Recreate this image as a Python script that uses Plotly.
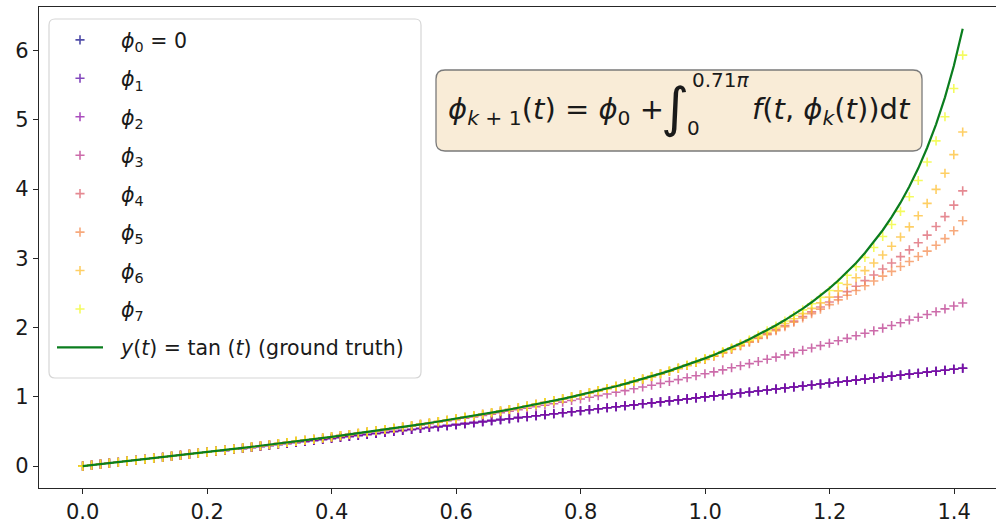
import plotly.graph_objects as go

# ---------------- data ----------------
T = [0.0000, 0.0143, 0.0286, 0.0428, 0.0571, 0.0714, 0.0857, 0.1000, 0.1142, 0.1285,
     0.1428, 0.1571, 0.1714, 0.1856, 0.1999, 0.2142, 0.2285, 0.2428, 0.2570, 0.2713,
     0.2856, 0.2999, 0.3142, 0.3284, 0.3427, 0.3570, 0.3713, 0.3856, 0.3998, 0.4141,
     0.4284, 0.4427, 0.4570, 0.4712, 0.4855, 0.4998, 0.5141, 0.5284, 0.5426, 0.5569,
     0.5712, 0.5855, 0.5998, 0.6140, 0.6283, 0.6426, 0.6569, 0.6712, 0.6854, 0.6997,
     0.7140, 0.7283, 0.7426, 0.7568, 0.7711, 0.7854, 0.7997, 0.8140, 0.8282, 0.8425,
     0.8568, 0.8711, 0.8854, 0.8996, 0.9139, 0.9282, 0.9425, 0.9568, 0.9710, 0.9853,
     0.9996, 1.0139, 1.0282, 1.0424, 1.0567, 1.0710, 1.0853, 1.0996, 1.1138, 1.1281,
     1.1424, 1.1567, 1.1710, 1.1852, 1.1995, 1.2138, 1.2281, 1.2424, 1.2566, 1.2709,
     1.2852, 1.2995, 1.3138, 1.3280, 1.3423, 1.3566, 1.3709, 1.3852, 1.3994, 1.4137]

PHI_LOW = [0.000, 0.014, 0.029, 0.043, 0.057, 0.071, 0.086, 0.100, 0.114, 0.129,
           0.143, 0.157, 0.171, 0.186, 0.200, 0.214, 0.228, 0.243, 0.257, 0.271,
           0.286, 0.300, 0.314, 0.328, 0.343, 0.357, 0.371, 0.386, 0.400, 0.414,
           0.428, 0.443, 0.457, 0.471, 0.486, 0.500, 0.514, 0.528, 0.543, 0.557,
           0.571, 0.585, 0.600, 0.614, 0.628, 0.643, 0.657, 0.671, 0.685, 0.700,
           0.714, 0.728, 0.743, 0.757, 0.771, 0.785, 0.800, 0.814, 0.828, 0.843,
           0.857, 0.871, 0.885, 0.900, 0.914, 0.928, 0.942, 0.957, 0.971, 0.985,
           1.000, 1.014, 1.028, 1.042, 1.057, 1.071, 1.085, 1.100, 1.114, 1.128,
           1.142, 1.157, 1.171, 1.185, 1.200, 1.214, 1.228, 1.242, 1.257, 1.271,
           1.285, 1.299, 1.314, 1.328, 1.342, 1.357, 1.371, 1.385, 1.399, 1.414]

PHI3 = [0.000, 0.014, 0.029, 0.043, 0.057, 0.072, 0.086, 0.100, 0.115, 0.129,
        0.144, 0.158, 0.173, 0.188, 0.203, 0.217, 0.232, 0.248, 0.263, 0.278,
        0.293, 0.309, 0.324, 0.340, 0.356, 0.372, 0.388, 0.405, 0.421, 0.438,
        0.455, 0.472, 0.489, 0.506, 0.524, 0.541, 0.559, 0.578, 0.596, 0.614,
        0.633, 0.652, 0.672, 0.691, 0.711, 0.731, 0.751, 0.772, 0.793, 0.814,
        0.835, 0.857, 0.879, 0.901, 0.924, 0.947, 0.970, 0.994, 1.018, 1.042,
        1.066, 1.091, 1.117, 1.142, 1.168, 1.195, 1.222, 1.249, 1.276, 1.304,
        1.333, 1.361, 1.390, 1.420, 1.450, 1.480, 1.511, 1.543, 1.574, 1.607,
        1.639, 1.673, 1.706, 1.740, 1.775, 1.810, 1.845, 1.882, 1.918, 1.955,
        1.993, 2.031, 2.070, 2.109, 2.149, 2.189, 2.230, 2.271, 2.313, 2.356]

PHI4 = [0.000, 0.014, 0.029, 0.043, 0.057, 0.072, 0.086, 0.100, 0.115, 0.129,
        0.144, 0.158, 0.173, 0.188, 0.203, 0.218, 0.233, 0.248, 0.263, 0.278,
        0.294, 0.309, 0.325, 0.341, 0.357, 0.373, 0.389, 0.406, 0.423, 0.440,
        0.457, 0.474, 0.492, 0.510, 0.528, 0.546, 0.565, 0.584, 0.603, 0.623,
        0.643, 0.663, 0.684, 0.705, 0.727, 0.749, 0.771, 0.794, 0.818, 0.842,
        0.867, 0.892, 0.918, 0.944, 0.972, 1.000, 1.029, 1.059, 1.090, 1.121,
        1.153, 1.186, 1.221, 1.256, 1.294, 1.332, 1.371, 1.412, 1.454, 1.498,
        1.543, 1.590, 1.638, 1.689, 1.741, 1.795, 1.851, 1.909, 1.969, 2.030,
        2.094, 2.160, 2.227, 2.298, 2.369, 2.443, 2.520, 2.597, 2.678, 2.760,
        2.846, 2.934, 3.025, 3.122, 3.225, 3.336, 3.460, 3.602, 3.768, 3.974]

PHI5 = [0.000, 0.014, 0.029, 0.043, 0.057, 0.072, 0.086, 0.100, 0.115, 0.129,
        0.144, 0.158, 0.173, 0.188, 0.203, 0.218, 0.233, 0.248, 0.263, 0.278,
        0.294, 0.309, 0.325, 0.341, 0.357, 0.373, 0.389, 0.406, 0.423, 0.440,
        0.457, 0.474, 0.492, 0.510, 0.528, 0.546, 0.565, 0.584, 0.603, 0.623,
        0.643, 0.663, 0.684, 0.705, 0.727, 0.749, 0.771, 0.794, 0.818, 0.842,
        0.867, 0.892, 0.918, 0.944, 0.972, 1.000, 1.029, 1.059, 1.090, 1.121,
        1.152, 1.186, 1.221, 1.256, 1.293, 1.331, 1.370, 1.411, 1.452, 1.496,
        1.541, 1.587, 1.635, 1.684, 1.736, 1.788, 1.842, 1.899, 1.956, 2.015,
        2.077, 2.138, 2.202, 2.267, 2.332, 2.400, 2.468, 2.535, 2.605, 2.673,
        2.743, 2.812, 2.882, 2.954, 3.027, 3.105, 3.189, 3.285, 3.399, 3.544]

PHI6 = [0.000, 0.014, 0.029, 0.043, 0.057, 0.072, 0.086, 0.100, 0.115, 0.129,
        0.144, 0.158, 0.173, 0.188, 0.203, 0.218, 0.233, 0.248, 0.263, 0.278,
        0.294, 0.309, 0.325, 0.341, 0.357, 0.373, 0.389, 0.406, 0.423, 0.440,
        0.457, 0.474, 0.492, 0.510, 0.528, 0.546, 0.565, 0.584, 0.603, 0.623,
        0.643, 0.663, 0.684, 0.705, 0.727, 0.749, 0.771, 0.794, 0.818, 0.842,
        0.867, 0.892, 0.918, 0.944, 0.972, 1.000, 1.029, 1.059, 1.090, 1.121,
        1.153, 1.187, 1.222, 1.257, 1.295, 1.333, 1.373, 1.415, 1.457, 1.501,
        1.548, 1.596, 1.646, 1.698, 1.752, 1.808, 1.867, 1.929, 1.992, 2.059,
        2.129, 2.202, 2.278, 2.358, 2.441, 2.530, 2.623, 2.719, 2.823, 2.932,
        3.049, 3.174, 3.308, 3.455, 3.615, 3.794, 3.996, 4.228, 4.498, 4.824]

PHI7 = [0.000, 0.014, 0.029, 0.043, 0.057, 0.072, 0.086, 0.100, 0.115, 0.129,
        0.144, 0.158, 0.173, 0.188, 0.203, 0.218, 0.233, 0.248, 0.263, 0.278,
        0.294, 0.309, 0.325, 0.341, 0.357, 0.373, 0.389, 0.406, 0.423, 0.440,
        0.457, 0.474, 0.492, 0.510, 0.528, 0.546, 0.565, 0.584, 0.603, 0.623,
        0.643, 0.663, 0.684, 0.705, 0.727, 0.749, 0.771, 0.794, 0.818, 0.842,
        0.867, 0.892, 0.918, 0.944, 0.972, 1.000, 1.029, 1.059, 1.090, 1.121,
        1.154, 1.188, 1.223, 1.259, 1.296, 1.335, 1.375, 1.418, 1.461, 1.506,
        1.554, 1.603, 1.655, 1.709, 1.766, 1.825, 1.888, 1.954, 2.023, 2.096,
        2.175, 2.256, 2.344, 2.437, 2.536, 2.642, 2.757, 2.879, 3.013, 3.157,
        3.315, 3.488, 3.678, 3.889, 4.125, 4.392, 4.696, 5.045, 5.452, 5.934]

TAN = [0.000, 0.014, 0.029, 0.043, 0.057, 0.072, 0.086, 0.100, 0.115, 0.129,
       0.144, 0.158, 0.173, 0.188, 0.203, 0.218, 0.233, 0.248, 0.263, 0.278,
       0.294, 0.309, 0.325, 0.341, 0.357, 0.373, 0.389, 0.406, 0.423, 0.440,
       0.457, 0.474, 0.492, 0.510, 0.528, 0.546, 0.565, 0.584, 0.603, 0.623,
       0.643, 0.663, 0.684, 0.705, 0.727, 0.749, 0.771, 0.794, 0.818, 0.842,
       0.867, 0.892, 0.918, 0.944, 0.972, 1.000, 1.029, 1.059, 1.090, 1.121,
       1.154, 1.188, 1.223, 1.259, 1.297, 1.336, 1.376, 1.419, 1.462, 1.508,
       1.556, 1.606, 1.658, 1.713, 1.771, 1.831, 1.895, 1.963, 2.034, 2.109,
       2.190, 2.275, 2.366, 2.464, 2.568, 2.681, 2.803, 2.934, 3.078, 3.234,
       3.406, 3.595, 3.804, 4.038, 4.300, 4.597, 4.935, 5.325, 5.778, 6.314]

SERIES_LABELS = ["<i>ϕ</i><sub>0</sub> = 0", "<i>ϕ</i><sub>1</sub>", "<i>ϕ</i><sub>2</sub>",
                 "<i>ϕ</i><sub>3</sub>", "<i>ϕ</i><sub>4</sub>", "<i>ϕ</i><sub>5</sub>",
                 "<i>ϕ</i><sub>6</sub>", "<i>ϕ</i><sub>7</sub>"]
SERIES_VALUES = [PHI_LOW, PHI_LOW, PHI_LOW, PHI3, PHI4, PHI5, PHI6, PHI7]
TRUTH_LABEL = "<i>y</i>(<i>t</i>) = tan (<i>t</i>) (ground truth)"

X_TICKS = [0.0, 0.2, 0.4, 0.6, 0.8, 1.0, 1.2, 1.4]
Y_TICKS = [0, 1, 2, 3, 4, 5, 6]

# ---------------- styling ----------------
COLORS = [(13, 8, 135), (83, 2, 163), (139, 10, 165), (184, 50, 137),
          (219, 92, 104), (244, 136, 73), (254, 189, 42), (240, 249, 33)]
ALPHA = 0.72
FONT = "DejaVu Sans"
W, H = 996, 525
ML, MR, MT, MB = 39, 0, 7, 37
PW, PH = W - ML - MR, H - MT - MB


def px(xp):
    return (xp - ML) / PW


def py(yp):
    return (H - MB - yp) / PH


fig = go.Figure()

for i, (lab, vals) in enumerate(zip(SERIES_LABELS, SERIES_VALUES)):
    r, g, b = COLORS[i]
    fig.add_trace(go.Scatter(
        x=T, y=vals, mode="markers", name="  " + lab,
        legendgroup="g%d" % i,
        marker=dict(symbol="cross-thin", size=6.5,
                    color="rgba(%d,%d,%d,%.2f)" % (r, g, b, ALPHA),
                    line=dict(width=1.6, color="rgba(%d,%d,%d,%.2f)" % (r, g, b, ALPHA))),
    ))

fig.add_trace(go.Scatter(
    x=T, y=TAN, mode="lines", name="  " + TRUTH_LABEL, legendgroup="g8",
    line=dict(color="#0a7d1e", width=2.2),
))


def rounded_rect(x0, y0, x1, y1, r):
    # pixel coords -> paper path with rounded corners
    rx, ry = r / PW, r / PH
    X0, X1 = px(x0), px(x1)
    Y0, Y1 = py(y1), py(y0)  # bottom, top in paper
    return ("M{a},{b} L{c},{b} Q{d},{b} {d},{e} L{d},{f} Q{d},{g} {c},{g} "
            "L{a},{g} Q{h},{g} {h},{f} L{h},{e} Q{h},{b} {a},{b} Z").format(
        a=X0 + rx, b=Y0, c=X1 - rx, d=X1, e=Y0 + ry, f=Y1 - ry, g=Y1, h=X0)


shapes = [
    # legend frame
    dict(type="path", xref="paper", yref="paper",
         path=rounded_rect(49, 19, 421, 378, 6),
         fillcolor="rgba(255,255,255,0.85)", line=dict(color="#d6d6d6", width=1.2),
         layer="below"),
    # formula box
    dict(type="path", xref="paper", yref="paper",
         path=rounded_rect(436, 70, 922, 151, 9),
         fillcolor="#f9ecd7", line=dict(color="#7a7a7a", width=1.3),
         layer="above"),
]

TXT = "#1a1a1a"
annotations = [
    dict(text="<i>ϕ</i><sub><i>k</i> + 1</sub>(<i>t</i>) = <i>ϕ</i><sub>0</sub> +",
         x=px(446), y=py(111), xref="paper", yref="paper", xanchor="left", yanchor="middle",
         showarrow=False, font=dict(family=FONT, size=29, color=TXT)),
    dict(text="∫", x=px(675), y=py(108), xref="paper", yref="paper",
         xanchor="center", yanchor="middle", showarrow=False,
         font=dict(family=FONT, size=54, color=TXT)),
    dict(text="0.71<i>π</i>", x=px(690), y=py(80), xref="paper", yref="paper",
         xanchor="left", yanchor="middle", showarrow=False,
         font=dict(family=FONT, size=20, color=TXT)),
    dict(text="0", x=px(685), y=py(128), xref="paper", yref="paper",
         xanchor="left", yanchor="middle", showarrow=False,
         font=dict(family=FONT, size=20, color=TXT)),
    dict(text="<i>f</i>(<i>t</i>, <i>ϕ</i><sub><i>k</i></sub>(<i>t</i>))d<i>t</i>",
         x=px(750), y=py(111), xref="paper", yref="paper", xanchor="left", yanchor="middle",
         showarrow=False, font=dict(family=FONT, size=29, color=TXT)),
]

fig.update_layout(
    width=W, height=H,
    margin=dict(l=ML, r=MR, t=MT, b=MB, pad=0),
    paper_bgcolor="white", plot_bgcolor="white",
    font=dict(family=FONT, size=20, color=TXT),
    showlegend=True,
    legend=dict(x=px(52), y=py(20), xanchor="left", yanchor="top",
                bgcolor="rgba(0,0,0,0)", borderwidth=0,
                font=dict(family=FONT, size=20.5, color=TXT),
                traceorder="grouped", tracegroupgap=8.8, itemwidth=46),
    shapes=shapes,
    annotations=annotations,
    xaxis=dict(range=[-0.0702, 1.4672], tickvals=X_TICKS, tickformat=".1f",
               showline=True, linecolor="#262626", linewidth=1.3, mirror=True,
               ticks="outside", ticklen=5, tickwidth=1.3, tickcolor="#262626",
               showgrid=False, zeroline=False,
               tickfont=dict(family=FONT, size=21, color=TXT)),
    yaxis=dict(range=[-0.3157, 6.6294], tickvals=Y_TICKS,
               showline=True, linecolor="#262626", linewidth=1.3, mirror=False,
               ticks="outside", ticklen=5, tickwidth=1.3, tickcolor="#262626",
               showgrid=False, zeroline=False,
               tickfont=dict(family=FONT, size=21, color=TXT)),
)

fig.write_html("out.html", config={"displayModeBar": False},
               post_script="document.body.style.margin='0';document.body.style.padding='0';")
